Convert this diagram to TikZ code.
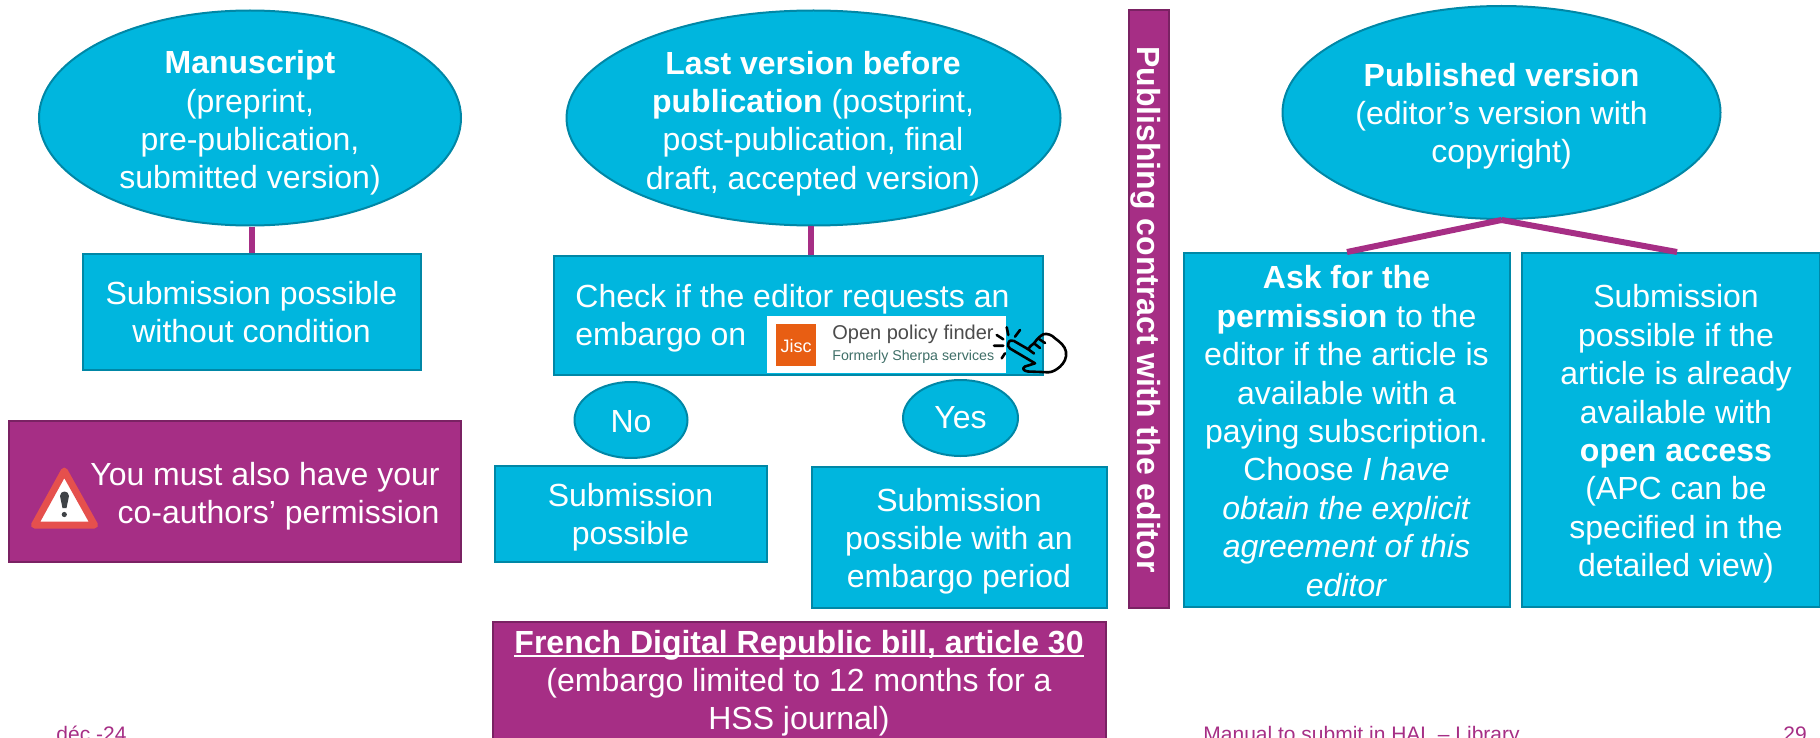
\documentclass[tikz,border=0pt]{standalone}
\usepackage{fontspec}
\setmainfont{Liberation Sans}
\usetikzlibrary{shapes.geometric}
\definecolor{cy}{HTML}{00B6DE}
\definecolor{cyb}{HTML}{0087A6}
\definecolor{pu}{HTML}{A62E85}
\definecolor{pub}{HTML}{7A2263}
\definecolor{warnred}{HTML}{E5504D}
\definecolor{warndark}{HTML}{3F4347}
\definecolor{jiscor}{HTML}{E85E13}
\definecolor{sherpa}{HTML}{3F6F68}
\newsavebox{\ulbox}
\newcommand{\tightul}[1]{\sbox{\ulbox}{#1}\rlap{\rule[-2pt]{\wd\ulbox}{1pt}}\usebox{\ulbox}}
\tikzset{
  x=0.5pt,y=-0.5pt,
  txt/.style={text=white,font=\fontsize{16}{19.1}\selectfont,align=center,inner sep=0pt},
  cbox/.style={rectangle,draw=cyb,fill=cy,line width=1pt,inner sep=0pt},
  pbox/.style={rectangle,draw=pub,fill=pu,line width=1pt,inner sep=0pt},
  oval/.style={ellipse,draw=cyb,fill=cy,line width=1pt,inner sep=0pt},
  link/.style={draw=pu,line width=3pt},
  foot/.style={text=pu,font=\fontsize{10.5}{12}\selectfont,inner sep=0pt,anchor=base west}
}
\begin{document}
\begin{tikzpicture}
\path[use as bounding box] (0,0) rectangle (1820,738);
\clip (0,0) rectangle (1820,738);
\coordinate (askT) at (1347,252);
\coordinate (subT) at (1677,252);
% ellipses
\node[oval,minimum width=211pt,minimum height=107.5pt] (ms) at (250,118) {};
\node[txt] (msT) at (250,123) {\textbf{Manuscript}\\(preprint,\\pre-publication,\\submitted version)};
\node[oval,minimum width=247pt,minimum height=107.5pt] (last) at (813.5,118) {};
\node[txt] (lastT) at (813,123.5) {\textbf{Last version before}\\\textbf{publication} (postprint,\\post-publication, final\\draft, accepted version)};
\node[oval,minimum width=219pt,minimum height=106.5pt] (pubv) at (1501.5,112.5) {};
\node[txt] (pubT) at (1501.5,116.5) {\textbf{Published version}\\(editor’s version with\\copyright)};
% boxes
\node[cbox,minimum width=169pt,minimum height=58pt] (free) at (251.5,311.5) {};
\node[txt] (freeT) at (251.5,312) {Submission possible\\without condition};
\node[cbox,minimum width=244.5pt,minimum height=59.5pt] (check) at (798,315) {};
\node[txt,anchor=base west] (checkA) at (575,307) {Check if the editor requests an};
\node[txt,anchor=base west] (checkB) at (575,345) {embargo on};
\node[pbox,minimum width=226pt,minimum height=70.5pt] (warn) at (235,491) {};
\node[txt,align=right,anchor=east] (warnT) at (440,496.5) {You must also have your\\co-authors’ permission};
\node[oval,minimum width=56.5pt,minimum height=38pt] (no) at (631,420) {};
\node[txt] (noT) at (631,422) {No};
\node[oval,minimum width=57.5pt,minimum height=38pt] (yes) at (960.5,418) {};
\node[txt] (yesT) at (960.5,418) {Yes};
\node[cbox,minimum width=136pt,minimum height=48pt] (poss) at (630.5,513.5) {};
\node[txt] (possT) at (630.5,517.5) {Submission\\possible};
\node[cbox,minimum width=147.5pt,minimum height=70.5pt] (emb) at (959,537) {};
\node[txt] (embT) at (959,541.5) {Submission\\possible with an\\embargo period};
\node[pbox,minimum width=306.5pt,minimum height=64pt] (law) at (799,686) {};
\node[txt] (lawT) at (799,683) {\tightul{\textbf{French Digital Republic bill, article 30}}\\(embargo limited to 12 months for a\\HSS journal)};
\node[pbox,minimum width=20pt,minimum height=298.5pt] (contract) at (1148.5,309) {};
\node[txt,rotate=-90] (contractT) at (1146,309.5) {\textbf{Publishing contract with the editor}};
\node[cbox,minimum width=163pt,minimum height=177pt] (ask) at (1346.5,429.5) {};
\node[txt,font=\fontsize{16}{19.2}\selectfont] (askTxt) at (1346.5,431) {\textbf{Ask for the}\\\textbf{permission} to the\\editor if the article is\\available with a\\paying subscription.\\Choose \textit{I have}\\\textit{obtain the explicit}\\\textit{agreement of this}\\\textit{editor}};
\node[cbox,minimum width=149pt,minimum height=177pt] (sub) at (1671,429.5) {};
\node[txt,font=\fontsize{16}{19.2}\selectfont] (subTxt) at (1676,434) {Submission\\possible if the\\article is already\\available with\\\textbf{open access}\\(APC can be\\specified in the\\detailed view)};
% connectors
\draw[link] (free.north |- ms.south) -- (free.north);
\coordinate (lastBase) at (811,226);
\draw[link] (lastBase) -- (lastBase |- check.north);
\draw[link] (pubv.south) -- (askT);
\draw[link] (pubv.south) -- (subT);
% logo
\fill[white] (767,316) rectangle (1006,373);
\fill[jiscor] (776,324) rectangle (816,366);
\node[inner sep=0pt,text=white,font=\fontsize{9}{11}\selectfont] (jisc) at (796,346) {Jisc};
\node[inner sep=0pt,anchor=west,text=black!70,font=\fontsize{10}{12}\selectfont] (opf) at (832,334) {Open policy finder};
\node[inner sep=0pt,anchor=west,text=sherpa,font=\fontsize{7.1}{9}\selectfont] (fsh) at (832,357) {Formerly Sherpa services};
% hand
\begin{scope}[draw=black,line width=1.3pt,line cap=round,line join=round]
\draw (996.7,335)--(1003.3,339.3) (1006.7,327.3)--(1008.3,335) (1020,330)--(1015,336.7) (994,345.7)--(1003.3,345.7) (1001.7,358.3)--(1005,353.3);
\draw (1008.3,343.3) .. controls (1009,340) and (1012,340) .. (1014,341) -- (1028.3,349.3)
 .. controls (1030,346) and (1032,345) .. (1034,343.3) .. controls (1037,339) and (1040,336) .. (1043.3,334.3)
 .. controls (1047,333) and (1052,335) .. (1055,338.3) .. controls (1060,342) and (1065,346) .. (1066,351.7)
 .. controls (1067,358) and (1064,363) .. (1060,366.7) .. controls (1056,370) and (1053,372) .. (1048.3,372.3)
 -- (1028,371.5) .. controls (1023,371) and (1022,368) .. (1025,366.5) -- (1035,363.3)
 -- (1010,348.5) .. controls (1008,347) and (1007.5,345) .. (1008.3,343.3) -- cycle;
\draw (1028.3,349.3)--(1034,353.5) (1034,343.3)--(1040,348) (1039,339)--(1045,343);
\end{scope}
% warning
\draw[fill=white,draw=warnred,line width=3.5pt,line join=round] (64.3,471) -- (94.5,525) -- (34.5,525) -- cycle;
\fill[warndark] (60,496) .. controls (60,490) and (69,490) .. (69,496) -- (66.5,508) -- (62.5,508) -- cycle;
\fill[warndark] (64.3,514.5) circle[radius=2.6];
% footer
\node[foot] (date) at (56,741) {déc.-24};
\node[foot] (man) at (1203,741) {Manual to submit in HAL  – Library};
\node[foot] (page) at (1783,741) {29};
\end{tikzpicture}
\end{document}
